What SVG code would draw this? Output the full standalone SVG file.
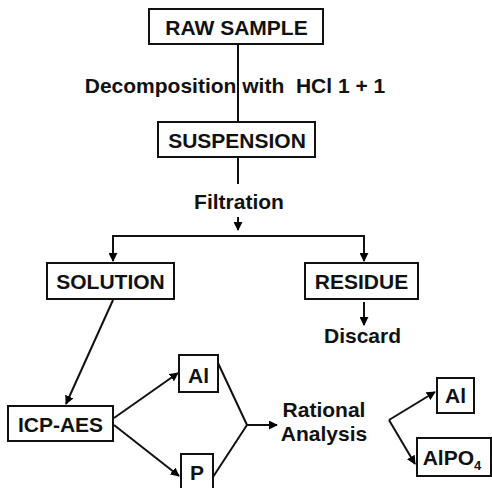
<svg xmlns="http://www.w3.org/2000/svg" width="492" height="488" viewBox="0 0 492 488">
<defs>
<marker id="ah" viewBox="0 0 10 10" refX="9" refY="5" markerWidth="4.5" markerHeight="4.5" markerUnits="strokeWidth" orient="auto">
<path d="M0,0 L10,5 L0,10 z" fill="#000"/>
</marker>
<style>
text{font-family:"Liberation Sans",Arial,sans-serif;font-weight:bold;font-size:21px;fill:#111;text-anchor:middle}
.box{fill:#fff;stroke:#111;stroke-width:2}
.ln{fill:none;stroke:#111;stroke-width:2}
.ar{fill:none;stroke:#111;stroke-width:2;marker-end:url(#ah)}
</style>
</defs>
<rect width="492" height="488" fill="#fff"/>
<g id="connectors">
<line class="ln" x1="238" y1="44" x2="238" y2="122"/>
<line class="ln" x1="238" y1="157" x2="238" y2="184"/>
<line class="ar" x1="238" y1="217" x2="238" y2="230"/>
<polyline class="ln" points="113,245 113,236 364,236 364,245"/>
<line class="ar" x1="113" y1="240" x2="113" y2="261"/>
<line class="ar" x1="364" y1="240" x2="364" y2="261"/>
<line class="ar" x1="364" y1="302" x2="364" y2="325"/>
<line class="ar" x1="113" y1="300" x2="66" y2="404"/>
<line class="ar" x1="114" y1="418" x2="178" y2="373"/>
<line class="ar" x1="114" y1="425" x2="179" y2="476"/>
<polyline class="ln" points="218,363 247,425 213,477"/>
<line class="ar" x1="247" y1="425" x2="277" y2="425"/>
<line class="ar" x1="389" y1="420" x2="435" y2="392"/>
<line class="ar" x1="389" y1="420" x2="415" y2="464"/>
</g>
<g id="raw-sample"><rect class="box" x="149" y="9" width="174" height="35"/><text x="236.5" y="35">RAW SAMPLE</text></g>
<g id="decomposition-label"><text x="235" y="93" xml:space="preserve">Decomposition with  HCl 1 + 1</text></g>
<g id="suspension"><rect class="box" x="158" y="122" width="157" height="35"/><text x="237" y="148">SUSPENSION</text></g>
<g id="filtration-label"><text x="239" y="209">Filtration</text></g>
<g id="solution"><rect class="box" x="47" y="263" width="127" height="36"/><text x="110.5" y="289">SOLUTION</text></g>
<g id="residue"><rect class="box" x="305" y="263" width="113" height="36"/><text x="361.5" y="289">RESIDUE</text></g>
<g id="discard"><text x="362.5" y="343">Discard</text></g>
<g id="icp-aes"><rect class="box" x="8" y="406" width="105" height="35"/><text x="60.5" y="432">ICP-AES</text></g>
<g id="al-1"><rect class="box" x="179" y="355" width="39" height="37"/><text x="198.5" y="383">Al</text></g>
<g id="p"><rect class="box" x="181" y="454" width="32" height="40"/><text x="197" y="480">P</text></g>
<g id="rational-analysis"><text x="324" y="417">Rational</text><text x="324" y="441">Analysis</text></g>
<g id="al-2"><rect class="box" x="437" y="378" width="37" height="35"/><text x="455.5" y="403">Al</text></g>
<g id="alpo4"><rect class="box" x="417" y="438" width="74" height="38"/><text x="452" y="465">AlPO<tspan font-size="13" dy="5">4</tspan></text></g>
</svg>
